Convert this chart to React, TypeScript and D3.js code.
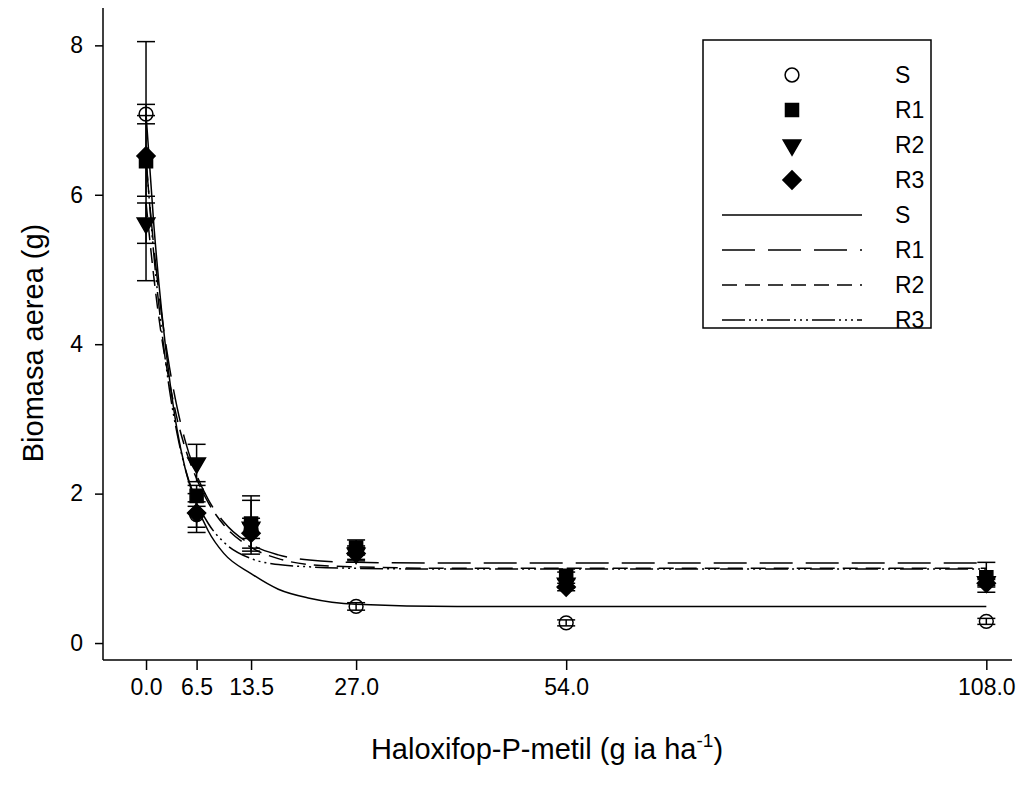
import React, { useRef, useEffect } from "react";
import * as d3 from "d3";

// doses on x axis
const doses = [0, 6.5, 13.5, 27, 54, 108];
const doseLabels = ["0.0", "6.5", "13.5", "27.0", "54.0", "108.0"];
const yTicks = [0, 2, 4, 6, 8];

// observed means and standard errors per population
const meanS = [7.08, 1.72, 1.5, 0.49, 0.27, 0.29];
const errS = [0.13, 0.17, 0.1, 0.05, 0.04, 0.04];
const meanR1 = [6.45, 1.97, 1.6, 1.28, 0.9, 0.88];
const errR1 = [1.6, 0.14, 0.37, 0.1, 0.05, 0.2];
const meanR2 = [5.62, 2.41, 1.55, 1.2, 0.8, 0.82];
const errR2 = [0.27, 0.25, 0.36, 0.1, 0.06, 0.05];
const meanR3 = [6.52, 1.74, 1.47, 1.2, 0.75, 0.8];
const errR3 = [0.54, 0.26, 0.2, 0.08, 0.05, 0.05];

// fitted curves
const curveX = [0, 1, 2, 3, 4, 5, 6.5, 8, 10, 13.5, 17, 21, 27, 40, 54, 108];
const fitS = [7.08, 5.6, 4.45, 3.55, 2.85, 2.35, 1.85, 1.5, 1.2, 0.93, 0.72, 0.6, 0.52, 0.49, 0.49, 0.49];
const fitR1 = [6.45, 5.3, 4.4, 3.7, 3.15, 2.72, 2.25, 1.92, 1.62, 1.32, 1.18, 1.11, 1.08, 1.07, 1.07, 1.07];
const fitR2 = [5.9, 4.9, 4.1, 3.5, 3.0, 2.62, 2.2, 1.88, 1.58, 1.28, 1.13, 1.05, 1.02, 1.0, 1.0, 1.0];
const fitR3 = [6.5, 5.2, 4.2, 3.4, 2.8, 2.35, 1.9, 1.6, 1.35, 1.13, 1.05, 1.02, 1.0, 0.99, 0.99, 0.99];

const groups = ["S", "R1", "R2", "R3"];

const App = () => {
  const svgRef = useRef<SVGSVGElement>(null);

  useEffect(() => {
    const svg = d3.select(svgRef.current);
    svg.selectAll("*").remove();
    const font = "'Liberation Sans', Arial, sans-serif";

    const x = d3.scaleLinear().domain([-5.53, 111.3]).range([103, 1012]);
    const y = d3.scaleLinear().domain([-0.227, 8.5]).range([660, 8]);

    // axes
    const yAxis = svg
      .append("g")
      .attr("transform", "translate(103,0)")
      .call(d3.axisLeft(y).tickValues(yTicks).tickSize(8).tickPadding(12).tickFormat(d3.format("d")));
    const xAxis = svg
      .append("g")
      .attr("transform", "translate(0,660)")
      .call(
        d3
          .axisBottom(x)
          .tickValues(doses)
          .tickSize(10)
          .tickPadding(9)
          .tickFormat((d, i) => doseLabels[i])
      );
    [yAxis, xAxis].forEach((a) => {
      a.select(".domain").attr("stroke-width", 1.5);
      a.selectAll(".tick line").attr("stroke-width", 1.5);
      a.selectAll(".tick text").attr("font-family", font).attr("font-size", 23).attr("fill", "#000");
    });
    xAxis.select(".domain").attr("d", `M${x.range()[0]},0H${x.range()[1]}`);
    yAxis.select(".domain").attr("d", `M0,${y.range()[0]}V${y.range()[1]}`);

    // axis titles
    svg
      .append("text")
      .attr("transform", "translate(43,343) rotate(-90)")
      .attr("text-anchor", "middle")
      .attr("font-family", font)
      .attr("font-size", 29)
      .text("Biomasa aerea (g)");
    const xt = svg
      .append("text")
      .attr("x", 547)
      .attr("y", 759)
      .attr("text-anchor", "middle")
      .attr("font-family", font)
      .attr("font-size", 29);
    xt.append("tspan").text("Haloxifop-P-metil (g ia ha");
    xt.append("tspan").attr("font-size", 19).attr("dy", -12).text("-1");
    xt.append("tspan").attr("dy", 12).text(")");

    // fitted lines
    const dashes = ["none", "33,13", "15,8", "23,4,2,4,2,4,2,4"];
    const fits = [fitS, fitR1, fitR2, fitR3];
    const line = d3
      .line<number>()
      .x((d, i) => x(curveX[i]))
      .y((d) => y(d))
      .curve(d3.curveMonotoneX);
    fits.forEach((f, k) => {
      svg
        .append("path")
        .attr("d", line(f))
        .attr("fill", "none")
        .attr("stroke", "#000")
        .attr("stroke-width", 1.5)
        .attr("stroke-dasharray", dashes[k]);
    });

    // error bars
    const means = [meanS, meanR1, meanR2, meanR3];
    const errs = [errS, errR1, errR2, errR3];
    means.forEach((m, k) => {
      const g = svg.append("g").attr("stroke", "#000").attr("stroke-width", 1.5);
      m.forEach((v, i) => {
        const cx = x(doses[i]);
        const lo = y(v - errs[k][i]);
        const hi = y(v + errs[k][i]);
        g.append("line").attr("x1", cx).attr("x2", cx).attr("y1", lo).attr("y2", hi);
        g.append("line").attr("x1", cx - 9).attr("x2", cx + 9).attr("y1", lo).attr("y2", lo);
        g.append("line").attr("x1", cx - 9).attr("x2", cx + 9).attr("y1", hi).attr("y2", hi);
      });
    });

    // markers
    const sym = [
      { type: d3.symbolCircle, size: 150, rot: 0, fill: "none" },
      { type: d3.symbolSquare, size: 170, rot: 0, fill: "#000" },
      { type: d3.symbolTriangle, size: 135, rot: 180, fill: "#000" },
      { type: d3.symbolSquare, size: 165, rot: 45, fill: "#000" },
    ];
    const drawSym = (k: number, cx: number, cy: number) => {
      svg
        .append("path")
        .attr("d", d3.symbol().type(sym[k].type).size(sym[k].size)())
        .attr("transform", `translate(${cx},${cy}) rotate(${sym[k].rot})`)
        .attr("fill", sym[k].fill)
        .attr("stroke", "#000")
        .attr("stroke-width", 1.5);
    };
    means.forEach((m, k) => {
      m.forEach((v, i) => drawSym(k, x(doses[i]), y(v)));
    });

    // legend
    const lg = svg.append("g");
    lg.append("rect")
      .attr("x", 703)
      .attr("y", 40)
      .attr("width", 228)
      .attr("height", 288)
      .attr("fill", "#fff")
      .attr("stroke", "#000")
      .attr("stroke-width", 1.5);
    const rowY = d3.range(8).map((i) => 75 + i * 35);
    groups.forEach((gname, k) => {
      drawSym(k, 792, rowY[k]);
      lg.append("text")
        .attr("x", 895)
        .attr("y", rowY[k] + 8)
        .attr("font-family", font)
        .attr("font-size", 23)
        .text(gname);
    });
    groups.forEach((gname, k) => {
      const yy = rowY[k + 4];
      lg.append("line")
        .attr("x1", 722)
        .attr("x2", 862)
        .attr("y1", yy)
        .attr("y2", yy)
        .attr("stroke", "#000")
        .attr("stroke-width", 1.5)
        .attr("stroke-dasharray", dashes[k]);
      lg.append("text")
        .attr("x", 895)
        .attr("y", yy + 8)
        .attr("font-family", font)
        .attr("font-size", 23)
        .text(gname);
    });
  }, []);

  return (
    <svg
      ref={svgRef}
      width={1021}
      height={797}
      style={{ position: "absolute", left: 0, top: 0, background: "#fff" }}
    />
  );
};

export default App;
